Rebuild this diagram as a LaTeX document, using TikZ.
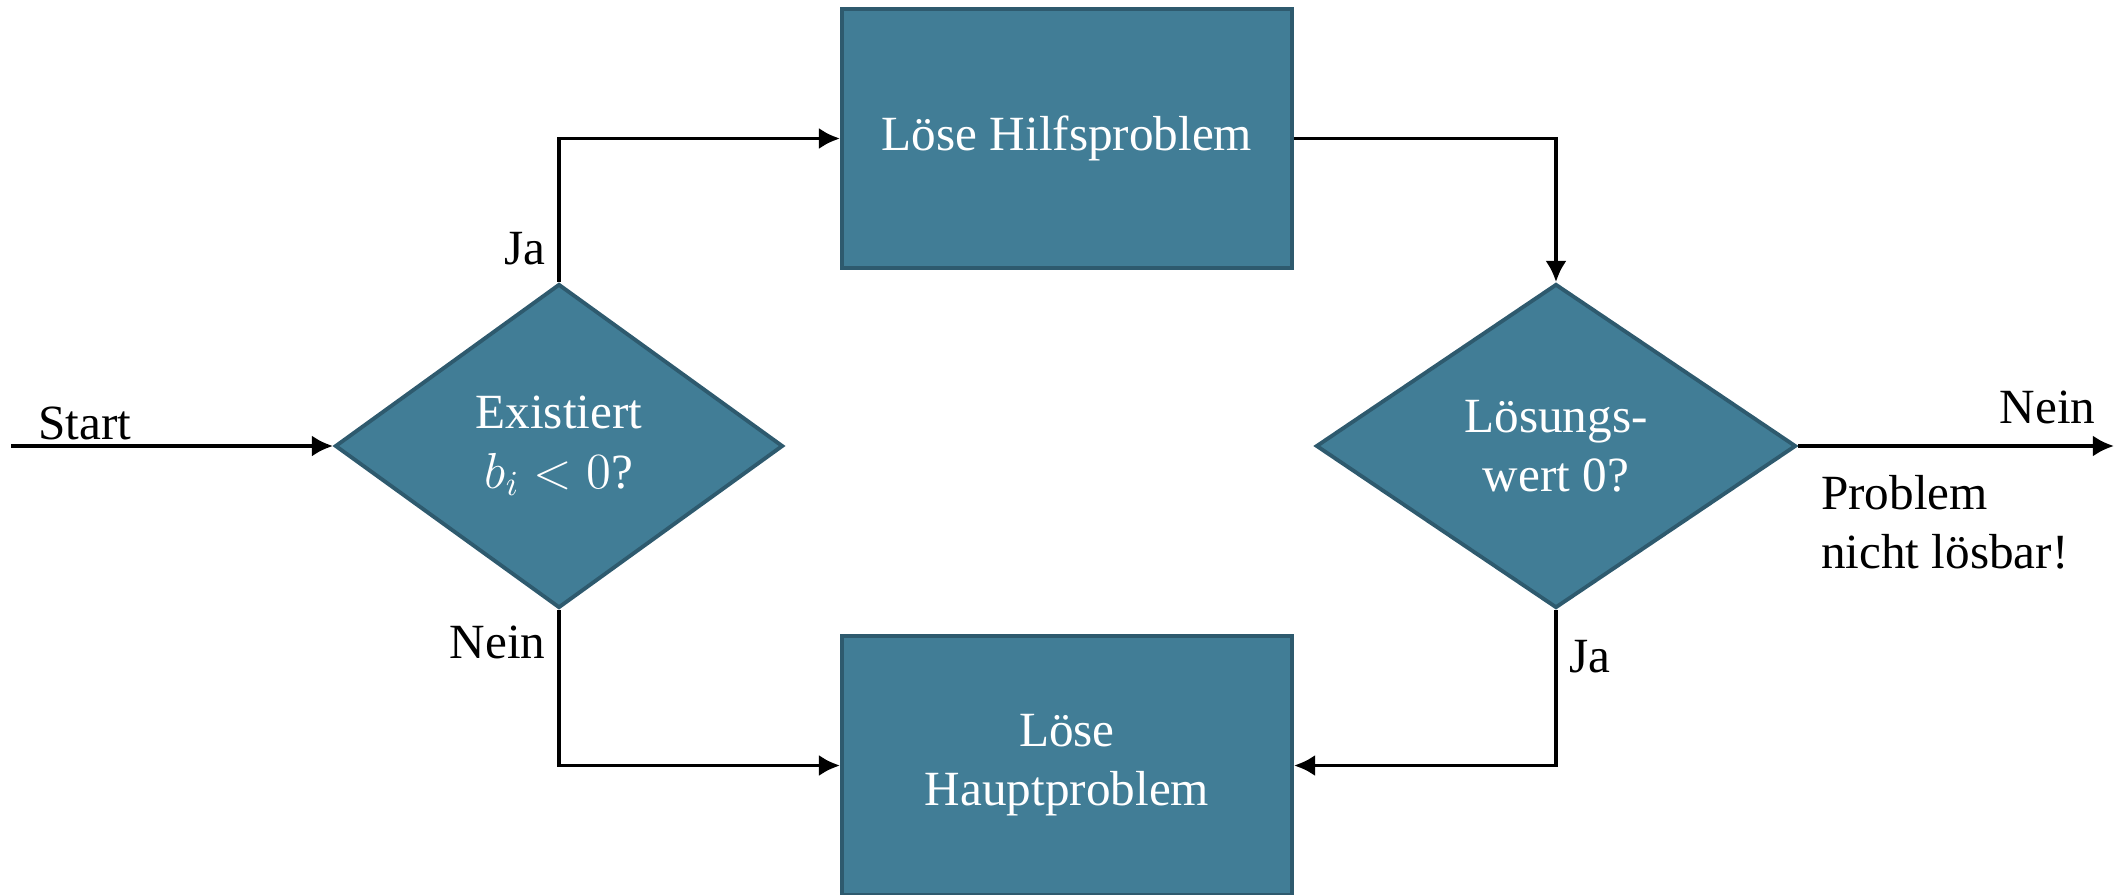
\documentclass[tikz,border=0pt]{standalone}
\usepackage{fontspec}
\setmainfont{Liberation Serif}
\usetikzlibrary{shapes.geometric}
\usetikzlibrary{arrows.meta}
\usetikzlibrary{positioning}

\definecolor{flowfill}{RGB}{65,125,150}
\definecolor{flowline}{RGB}{46,90,110}

\tikzset{
  process/.style={rectangle, draw=flowline, fill=flowfill, line width=1.1pt,
                  minimum width=4.5cm, minimum height=2.59cm, inner sep=0pt,
                  text=white, align=center},
  decision/.style={diamond, draw=flowline, fill=flowfill, line width=1.1pt,
                   minimum height=3.24cm, inner sep=0pt, text=white, align=center},
}

\begin{document}
\begin{tikzpicture}[font=\fontsize{14}{16.8}\selectfont, line width=1.1pt,
                    >={Latex[length=6pt,width=6pt]}]
 \useasboundingbox (0,0) rectangle (21.18,8.94);

 \node[decision, minimum width=4.48cm, name=exist] at (5.59,4.48)   {Existiert\\$b_i < 0$?};
 \node[process,                        name=hilfs] at (10.67,7.555) {Löse Hilfsproblem};
 \node[process,                        name=haupt] at (10.67,1.285) {Löse\\Hauptproblem};
 \node[decision, minimum width=4.8cm,  name=check] at (15.56,4.48)  {Lösungs-\\wert 0?};

 \coordinate (start) at (0.11,4.48);
 \coordinate (stop)  at (21.14,4.48);

 \draw[->] (start) -- node[pos=0.23,above,yshift=-0.08cm]               {Start}                     (exist);
 \draw[->] (exist) |- node[pos=0.115,left]                              {Ja}                        (hilfs);
 \draw[->] (exist) |- node[pos=0.105,left]                              {Nein}                      (haupt);
 \draw[->] (hilfs) -| (check);
 \draw[->] (check) |- node[pos=0.15,right]                              {Ja}                        (haupt);
 \draw[->] (check) -- node[pos=0.79,above,yshift=0.08cm] {Nein}
                      node[pos=0.03,below right,align=left,yshift=-0.16cm] {Problem\\nicht lösbar!} (stop);
\end{tikzpicture}
\end{document}
